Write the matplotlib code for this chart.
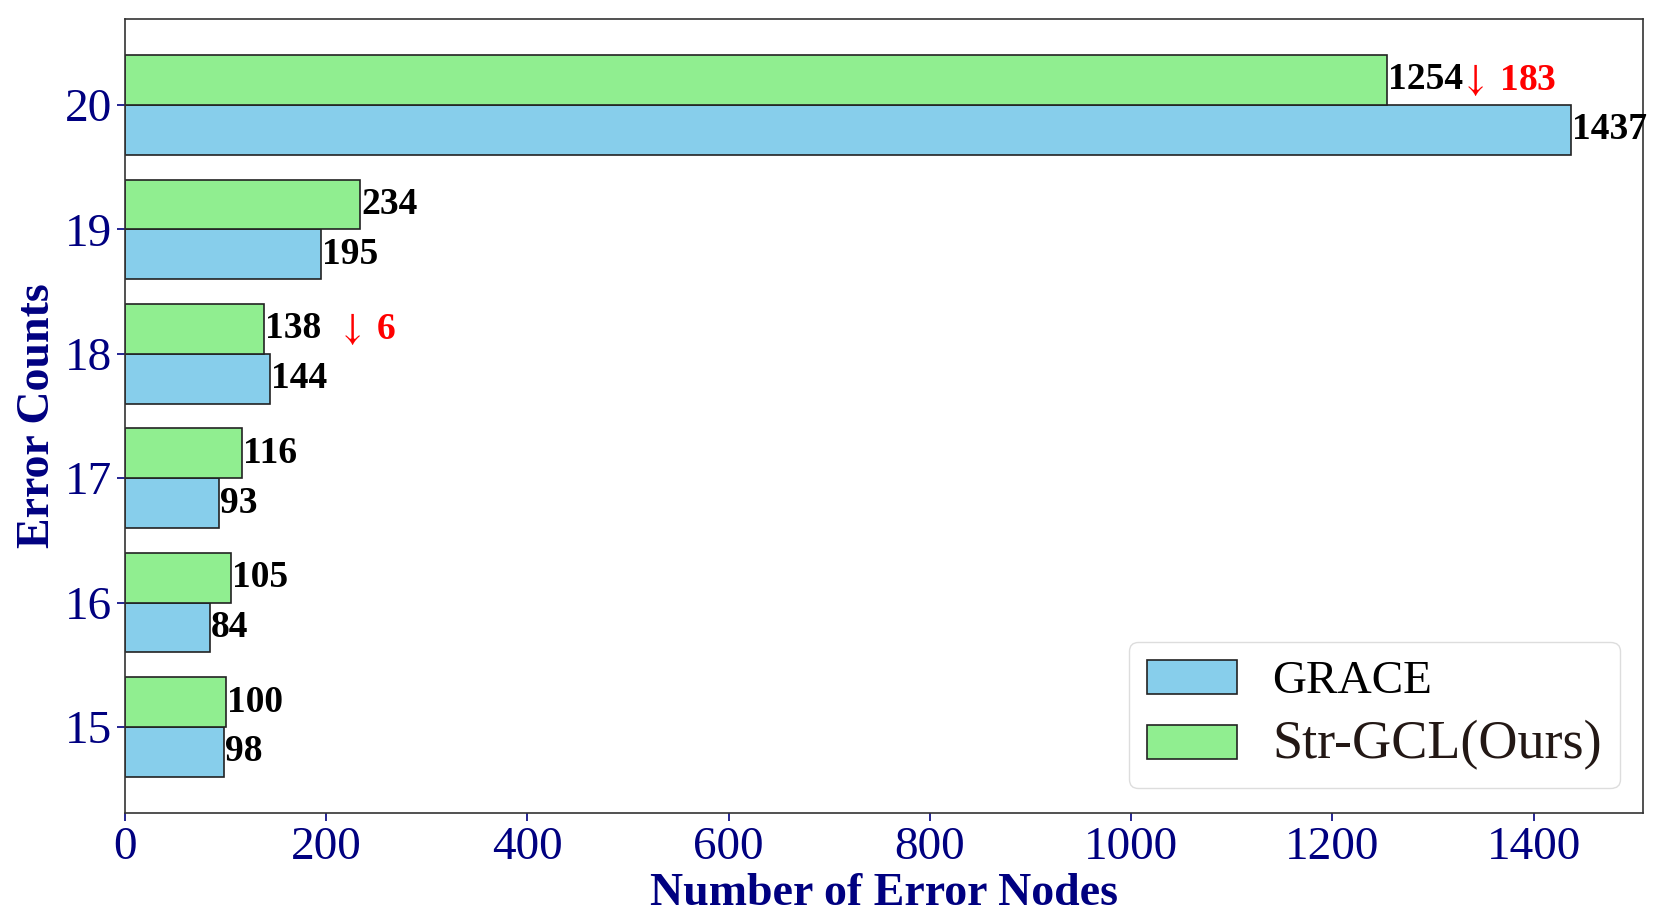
import matplotlib
matplotlib.use("Agg")
import matplotlib.pyplot as plt
import numpy as np

categories = [15, 16, 17, 18, 19, 20]
grace = [98, 84, 93, 144, 195, 1437]
strgcl = [100, 105, 116, 138, 234, 1254]
series_names = ["GRACE", "Str-GCL(Ours)"]
# (category, decrease) annotations
drops = [(18, 6), (20, 183)]

plt.rcParams['font.family'] = ['Liberation Serif', 'DejaVu Serif']
plt.rcParams['mathtext.fontset'] = 'stix'
navy = '#000080'

fig = plt.figure(figsize=(16.61, 9.23), dpi=100)
ax = fig.add_axes([0.0753, 0.1192, 0.9139, 0.8602])

y = np.array(categories, dtype=float)
h = 0.4
b1 = ax.barh(y - h / 2, grace, height=h, color='skyblue', edgecolor='#222222', linewidth=1.2, label=series_names[0])
b2 = ax.barh(y + h / 2, strgcl, height=h, color='lightgreen', edgecolor='#222222', linewidth=1.2, label=series_names[1])

for yy, v in zip(y, grace):
    ax.text(v + 1, yy - h / 2, str(v), ha='left', va='center', fontsize=27, fontweight='bold', color='black')
for yy, v in zip(y, strgcl):
    ax.text(v + 1, yy + h / 2, str(v), ha='left', va='center', fontsize=27, fontweight='bold', color='black')

for cat, d in drops:
    i = categories.index(cat)
    ax.text(strgcl[i] + 73, cat + h / 2, r"$\downarrow$ " + str(d), ha='left', va='center',
            fontsize=27, fontweight='bold', color='red')

ax.set_yticks(categories)
ax.set_yticklabels([str(c) for c in categories])
ax.tick_params(axis='both', colors=navy, labelsize=34, length=6, width=1.2)
ax.set_xlabel("Number of Error Nodes", fontsize=33, fontweight='bold', color=navy, labelpad=3)
ax.set_ylabel("Error Counts", fontsize=33, fontweight='bold', color=navy, labelpad=4)
for s in ax.spines.values():
    s.set_color('#333333')
    s.set_linewidth(1.2)

leg = ax.legend(handles=[b1, b2], loc='lower right', fontsize=34, handlelength=1.9, handleheight=0.75,
                handletextpad=0.75, borderpad=0.38, labelspacing=0.35, framealpha=1, edgecolor='#dddddd',
                borderaxespad=0, bbox_to_anchor=(0.9845, 0.031))
texts = leg.get_texts()
texts[0].set_color('black')
texts[1].set_color('#231815')
texts[1].set_fontsize(39)

fig.savefig("out.png", dpi=100)
